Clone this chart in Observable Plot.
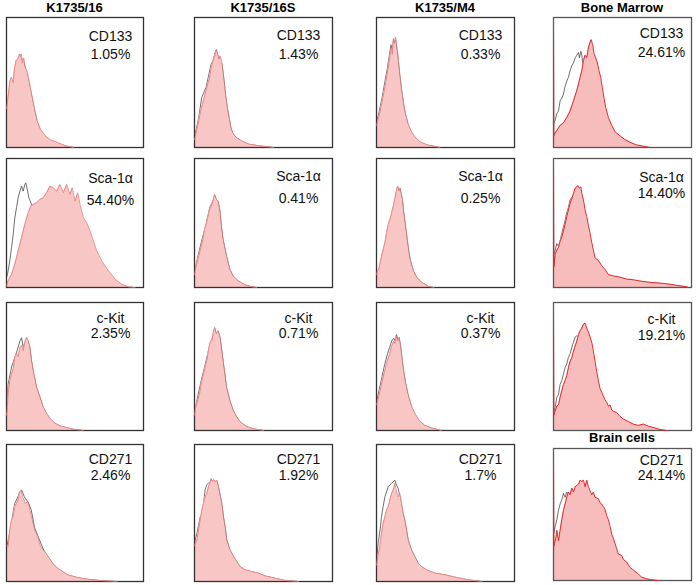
<!DOCTYPE html>
<html><head><meta charset="utf-8">
<script src="https://cdn.jsdelivr.net/npm/d3@7"></script>
<script src="https://cdn.jsdelivr.net/npm/@observablehq/plot@0.6"></script>
<style>
body{margin:0;background:#fff;}
#root{position:relative;width:697px;height:585px;font-family:"Liberation Sans",Arial,sans-serif;overflow:hidden;}
.title{position:absolute;font-weight:bold;font-size:13px;line-height:15px;transform:translateX(-50%);white-space:nowrap;color:#000;}
.panel{position:absolute;}
</style></head><body><div id="root"></div>
<script>
// ---- categories & labels ----
const columns = ["K1735/16", "K1735/16S", "K1735/M4", "Bone Marrow"];
const markers = ["CD133", "Sca-1α", "c-Kit", "CD271"];
const percents = [
  ["1.05%", "1.43%", "0.33%", "24.61%"],
  ["54.40%", "0.41%", "0.25%", "14.40%"],
  ["2.35%", "0.71%", "0.37%", "19.21%"],
  ["2.46%", "1.92%", "1.7%", "24.14%"]
];
const lastPanelTitle = "Brain cells";

// ---- histograms: [fluorescence (% of log axis), count (% of panel max)] ----
const stained_r1c1 = [[0,30],[0.5,33],[1.5,42],[2.4,51],[3.6,54],[4.9,50],[5.8,61],[7,67],[8.3,68],[9.5,72],[10.2,70],[10.7,72],[11.4,65],[12.6,69],[13.5,62],[15,59],[17.5,46],[19.9,33],[22.3,21],[24.8,14],[28.4,9],[32,6],[36.9,4],[44,1],[49,0]];
const control_r1c1 = [[0,28],[2.4,48],[3.6,52],[4.9,49],[5.8,58],[7,64],[8.3,66],[9.5,70],[10.7,69],[12.6,66],[15,56],[17.5,44],[19.9,31],[22.3,20],[24.8,13],[28.4,8],[32,5],[36.9,3],[44,1],[49,0]];
const stained_r2c1 = [[0,1.3],[1.2,5.2],[3.7,10.3],[6.1,18],[8.5,28.4],[11,38.7],[13.4,49],[15.9,58],[17.8,63.1],[19.5,64.4],[22,65.7],[24.4,68.3],[26.8,69.6],[29.3,73.5],[31.7,78.6],[34.1,77.3],[36.6,74.7],[39,79.9],[41.5,73.5],[43.9,79.9],[46.3,72.2],[48,77.3],[50,67],[52,73.5],[53.7,64.4],[56.1,54.1],[58.5,50.3],[61,43.8],[63.4,36.1],[65.9,28.4],[69.5,20.6],[74.4,12.9],[79.3,6.4],[84.1,2.6],[89,0.5],[93.9,0]];
const control_r2c1 = [[0,8],[0.7,10],[2.4,20.6],[3.7,30.9],[4.9,41.2],[6.1,54.1],[7.3,61.9],[8.5,69.6],[9.8,74.7],[11,78.6],[12.2,74.7],[13.4,79.9],[14.1,81.2],[15.4,74.7],[16.3,69.6],[17.8,65.7],[18.8,63.1],[20.7,60.6],[25.6,41.2],[32.9,18],[40.2,5.2],[50,1.3],[60,0]];
const stained_r3c1 = [[0,12],[0.5,16],[1.2,28.9],[2.4,39.3],[3.7,44.4],[4.9,48.3],[6.1,57.4],[7.3,59.9],[8.5,57.4],[9.8,65.1],[11,66.4],[12.2,62.5],[13.4,69],[14.6,72.9],[15.9,70.3],[17.1,65.1],[18.3,54.8],[19.5,47],[22,34.1],[24.4,26.4],[26.8,18.6],[29.3,13.4],[31.7,9.6],[35.4,5.7],[39,3.6],[43.9,2.3],[48.8,1],[56,0]];
const control_r3c1 = [[0,14],[1.2,36],[3.7,49.6],[7.3,61],[9.8,69.8],[11,72.4],[12.2,65.1],[13.4,69],[14.6,71.6],[15.9,69],[17.1,64],[18.3,54],[19.5,46],[22,33],[24.4,26],[26.8,18],[29.3,13],[31.7,9],[35.4,5.5],[39,3.5],[43.9,2],[48.8,1],[56,0]];
const stained_r4c1 = [[0,26.7],[1.2,25.5],[2.4,37.6],[3.6,44.9],[4.8,47.3],[6,54.6],[7.2,57],[8.4,59.5],[9.6,65.5],[10.8,66.7],[11.6,61.9],[12.8,59.5],[13.7,57],[15.2,58.3],[16.1,55.8],[17.6,49.8],[19.3,42.5],[20.5,37.6],[22.9,32.8],[24.8,25.5],[26.5,23.1],[28.9,20.6],[31.3,17],[33.7,13.3],[37.3,9.7],[41,7.3],[44.6,4.9],[51.8,2.9],[59,1.7],[68.7,0.7],[80.7,0]];
const control_r4c1 = [[0,24],[2.4,36],[4.8,50],[6,57],[8.4,61.9],[9.6,65.5],[11.1,66.7],[13,61.9],[14.4,59.5],[15.7,58.3],[18,52.4],[20.5,39.3],[24.1,30.3],[26.5,24.3],[28.9,20],[31.3,16.5],[33.7,13],[37.3,9.5],[41,7],[44.6,4.8],[51.8,2.8],[59,1.6],[68.7,0.6],[80.7,0]];

const stained_r1c2 = [[0,6],[1,10.3],[3.1,20.5],[4.4,28.2],[5.7,33.3],[7,38.5],[8.3,43.6],[9.6,48.7],[10.9,53.8],[12.1,61.5],[13.4,66.7],[14.7,70.5],[16,75.6],[16.8,71.8],[17.8,67.9],[18.6,70.5],[19.9,65.4],[21.2,53.8],[22.5,41],[23.8,30.8],[25.1,23.1],[26.4,15.4],[27.6,11.5],[30.2,7.7],[34.1,5.1],[39.3,2.6],[47,1.3],[57.4,0]];
const control_r1c2 = [[0,8],[3.1,23],[5.2,38.5],[8.3,46],[12,64],[13.4,67],[15.5,75],[16.8,71],[18,67],[19.9,64],[21.2,53],[22.5,40],[23.8,30],[25.1,22.5],[26.4,15],[27.6,11],[30.2,7.5],[34.1,5],[39.3,2.5],[47,1.2],[57.4,0]];
const stained_r2c2 = [[0,10],[0.7,14.2],[2.4,21.9],[3.7,27.1],[4.9,32.2],[6.1,37.4],[7.3,45.1],[8.5,49],[9.8,55.4],[11,60.6],[12.2,63.1],[13.4,67],[14.6,72.2],[15.9,68.3],[17.1,67],[18.3,60.6],[19.5,47.7],[20.7,37.4],[23.2,24.5],[25.6,14.2],[28,9],[31.7,5.2],[36.6,2.1],[41.5,0.5],[45,0]];
const control_r2c2 = [[0,12],[2.4,24],[6.1,40],[8.5,49.5],[11,62],[12.2,64.5],[13.4,67.5],[14.6,71.5],[15.9,68],[17.1,66.5],[18.3,60],[19.5,47],[20.7,37],[23.2,24],[25.6,14],[28,8.8],[31.7,5],[36.6,2],[41.5,0.5],[45,0]];
const stained_r3c2 = [[0,12],[0.7,17.3],[2.4,23.8],[3.7,28.9],[4.9,36.7],[6.6,44.4],[8,50.9],[9,54.8],[10.5,65.1],[11.5,69],[12.7,70.3],[13.9,78],[14.6,80.6],[15.9,75.5],[17.1,78],[18.3,74.2],[19.5,65.1],[20.7,54.8],[22,44.4],[23.2,34.1],[25.6,23.8],[28,16],[30.5,10.9],[32.9,7],[37.8,3.1],[42.7,1.3],[50,0]];
const control_r3c2 = [[0,14],[2.4,27],[4.9,39],[7.3,49.6],[9.8,61],[11.5,69],[12.7,71.5],[13.9,77],[14.6,80],[15.9,75],[17.1,77.5],[18.3,73.5],[19.5,64.5],[20.7,54],[22,44],[23.2,33.5],[25.6,23.3],[28,15.6],[30.5,10.6],[32.9,6.8],[37.8,3],[42.7,1.2],[50,0]];
const stained_r4c2 = [[0,26],[0.5,27.9],[1.7,30.3],[2.9,37.6],[4.1,44.9],[5.3,52.2],[6.5,57],[7.7,61.9],[8.9,64.3],[10.1,69.2],[11.4,72.8],[12.1,75.2],[13,72.8],[14,74.5],[15,72.8],[16.2,74],[17.4,69.2],[18.6,63.1],[19.8,57],[21,47.3],[22.2,40],[23.4,30.3],[25.8,23.1],[28.3,18.2],[30.7,14.6],[33.1,10.9],[36.7,8.5],[41.5,7.3],[46.4,6.1],[51.2,4.1],[58.5,2.4],[65.7,0.7],[75.4,0]];
const control_r4c2 = [[0,28],[1.7,35],[4.1,47],[5.8,50],[7.7,67],[8.9,70.6],[10.1,71.8],[11.4,72.5],[12.1,74.5],[13,72.3],[14,74],[15,72.3],[16.2,73.5],[17.4,68.8],[18.6,62.7],[19.8,56.6],[21,47],[22.2,39.6],[23.4,30],[25.8,22.8],[28.3,18],[30.7,14.4],[33.1,10.7],[36.7,8.3],[41.5,7.1],[46.4,6],[51.2,4],[58.5,2.3],[65.7,0.6],[75.4,0]];

const stained_r1c3 = [[0,17],[2,25],[4,35],[6,46],[8,58],[9.5,68],[10.5,76],[11.5,72],[12.3,84],[13,80],[13.8,85],[14.6,78],[15.4,72],[16.5,60],[18,46],[19.5,35],[21,26],[23,18],[25.5,12],[28,8],[32,4],[37,2],[46,0]];
const control_r1c3 = [[0,19],[2,28],[4,38],[6,50],[8,62],[9.5,72],[10.5,79],[11.5,75],[12.3,83],[13,80],[13.8,83],[14.6,77],[15.4,71],[16.5,59],[18,45],[19.5,34],[21,25],[23,17],[25.5,11],[28,7.5],[32,3.8],[37,1.8],[46,0]];
const stained_r2c3 = [[0,10],[0.7,12.9],[1.7,14.2],[2.4,18],[3.7,24.5],[4.9,29.6],[6.1,34.8],[7.3,42.5],[8.5,49],[9.8,52.8],[11,58],[12.2,63.1],[13.4,69.6],[14.6,76],[15.4,78.6],[16.3,74.7],[17.1,77.3],[17.8,73.5],[18.8,68.3],[19.5,60.6],[20.7,50.3],[22,39.9],[23.2,29.6],[24.4,21.9],[26.8,12.9],[29.3,7.7],[32.9,3.9],[37.8,0.8],[41.5,0]];
const control_r2c3 = [[0,9],[1.7,13.5],[3.7,23.5],[6.1,34],[8.5,48],[11,57],[13.4,68.5],[14.6,75],[15.4,77.5],[16.3,74],[17.1,76.5],[17.8,72.5],[18.8,67.5],[19.5,60],[20.7,49.5],[22,39],[23.2,29],[24.4,21.5],[26.8,12.5],[29.3,7.5],[32.9,3.8],[37.8,0.7],[41.5,0]];
const stained_r3c3 = [[0,20],[2,28],[4,38],[6,47],[8,55],[9.5,60],[11,66],[12.5,70],[13.5,68],[14.5,74],[15.5,70],[16.5,73],[17.5,66],[18.5,57],[19.5,48],[21,38],[23,28],[25.5,19],[28,13],[31,8],[35,4],[40,2],[47,0]];
const control_r3c3 = [[0,22],[2,32],[4,42],[6,52],[8,60],[9.5,65],[11,70],[12.5,72],[13.5,70],[14.5,75],[15.5,71],[16.5,72],[17.5,65],[18.5,56],[19.5,47],[21,37],[23,27],[25.5,18],[28,12],[31,7.5],[35,3.8],[40,1.8],[47,0]];
const stained_r4c3 = [[0,12],[0.7,17],[2.4,25.5],[3.6,35.2],[4.8,42.5],[6.1,47.3],[7.3,52.2],[8.5,54.6],[9.7,59.5],[10.9,64.3],[12.1,66.7],[13.3,71.6],[14.5,65.5],[15.7,61.9],[16.9,64.3],[18.2,57],[19.4,49.8],[20.6,44.9],[21.8,37.6],[23,30.3],[25.4,23.1],[27.8,18.2],[30.3,13.3],[32.7,10.9],[36.3,8.5],[42.4,6.1],[49.6,4.9],[56.9,3.2],[66.6,1.2],[76.3,0]];
const control_r4c3 = [[0,15],[1.2,27.9],[2.9,40],[3.6,47.3],[4.8,54.6],[6.1,61.9],[7.3,65.5],[8.5,69.2],[10.9,71.6],[12.1,72.8],[13.3,74],[14.5,70.4],[15.7,68],[16.9,61.9],[18.2,54.6],[19.4,48.5],[20.6,44],[21.8,37],[23,30],[25.4,22.8],[27.8,18],[30.3,13],[32.7,10.7],[36.3,8.3],[42.4,6],[49.6,4.8],[56.9,3.1],[66.6,1.1],[76.3,0]];

const stained_r1c4 = [[0,100],[0.3,9],[0.5,10],[2.4,13],[4.8,17],[7.2,19],[9.6,23],[12,28],[14.5,36],[16.9,44],[18.1,49],[19.3,54],[20.5,59],[21.7,67],[22.9,71],[24.1,69],[25.3,77],[26.5,81],[27.2,83],[28.4,79],[29.4,72],[30.6,69],[31.8,65],[33,59],[34.2,54],[35.4,46],[36.6,38],[37.8,31],[39.8,23],[42.2,17],[44.6,12],[48.2,9],[51.8,6],[55.4,4],[60.2,2],[65.1,1],[69.9,0]];
const control_r1c4 = [[0,18],[1.2,21],[2.4,26],[3.6,28],[4.8,36],[6,38],[7.2,41],[8.4,47],[9.6,51],[10.8,54],[12,59],[13.3,63],[14.5,65],[15.7,69],[16.9,71],[18.1,73],[18.8,69],[19.8,74],[20.5,71],[21.2,65],[22.9,59],[25.3,49],[28.9,36],[33.7,23],[38.6,14],[45.8,5],[55.4,1],[65,0]];
const stained_r2c4 = [[0,100],[0.3,16],[0.5,18],[1.2,26],[2.4,29],[3.6,31],[4.8,36],[6,39],[7.2,44],[8.4,49],[9.6,55],[10.8,60],[12,65],[13.3,69],[14.5,73],[15.7,77],[16.9,78],[17.6,79],[18.8,77],[19.8,78],[20.5,73],[21.7,68],[22.9,60],[24.1,55],[25.3,48],[26.5,42],[27.7,35],[28.9,29],[30.1,23],[32.5,21],[34.9,17],[37.3,14],[39.8,10],[43.4,9],[48.2,8],[53,6.5],[57.8,6],[62.7,5],[69.9,4],[77.1,3.4],[84.3,2.6],[91.6,1.3],[97,0.5]];
const control_r2c4 = [[0,25],[1.2,29],[2.4,34],[3.6,32],[4.8,36],[6,42],[7.2,47],[8.4,52],[9.6,58],[10.8,62],[12,68],[13.3,70],[14.5,71],[16.9,70],[19.3,62],[21.7,49],[25.3,31],[28.9,18],[33.7,9],[41,4],[50.6,1],[62.7,0]];
const stained_r3c4 = [[0,100],[0.3,12],[0.5,13],[1.2,15],[2.4,19],[3.6,20],[4.8,26],[6,31],[7.2,36],[8.4,39],[9.6,43],[10.8,49],[12,54],[13.3,57],[14.5,62],[15.7,66],[16.9,70],[18.1,75],[19.3,78],[20.5,80],[21.7,83],[22.9,84],[24.1,80],[25.3,77],[26.5,73],[27.7,69],[28.9,62],[30.1,54],[31.3,46],[32.5,39],[33.7,33],[34.9,30],[36.1,27],[37.3,24],[38.6,22],[39.8,19],[41,20],[42.2,16],[43.4,15],[45.8,14],[48.2,11],[50.6,9],[54.2,7],[57.8,5],[61.4,4],[65.1,5],[68.7,3.4],[73.5,2],[77.1,0.8],[81.9,0]];
const control_r3c4 = [[0,14],[1.2,18],[2.4,26],[3.6,28],[4.8,36],[6,39],[7.2,44],[8.4,49],[9.6,52],[10.8,57],[12,60],[13.3,65],[14.5,69],[15.7,73],[16.9,74],[18.1,73],[20.5,65],[24.1,49],[28.9,31],[33.7,18],[41,7],[50.6,2],[62.7,0]];
const stained_r4c4 = [[0,100],[0.3,26],[0.7,28],[1.7,32],[2.4,38],[3.6,30],[4.8,38],[6,46],[7.2,53],[8.4,58],[9.6,63],[10.8,67],[12,65],[13.3,70],[14.5,67],[15.7,71],[16.9,72],[18.1,73],[19.3,76],[20.5,75],[21.7,76],[22.9,71],[24.1,76],[25.3,71],[26.5,68],[27.7,65],[28.9,67],[30.1,63],[32.5,62],[33.7,59],[34.9,58],[36.1,56],[37.3,54],[38.6,49],[39.8,46],[41,41],[42.2,35],[43.4,32],[44.6,28],[45.8,24],[47,20],[49.4,19],[50.6,16],[53,14],[55.4,10],[57.8,8],[61.4,5],[63.9,2.5],[67.5,1.3],[71.1,0.5],[75.9,0]];
const control_r4c4 = [[0,35],[1.2,41],[2.4,46],[3.6,53],[4.8,58],[6,61],[7.2,66],[8.4,63],[9.6,67],[10.8,63],[13.3,61],[18.1,58],[25.3,51],[32.5,41],[39.8,28],[47,15],[56.6,5],[68.7,0.5],[75,0]];

const stained = [
  [stained_r1c1, stained_r1c2, stained_r1c3, stained_r1c4],
  [stained_r2c1, stained_r2c2, stained_r2c3, stained_r2c4],
  [stained_r3c1, stained_r3c2, stained_r3c3, stained_r3c4],
  [stained_r4c1, stained_r4c2, stained_r4c3, stained_r4c4]
];
const controls = [
  [control_r1c1, control_r1c2, control_r1c3, control_r1c4],
  [control_r2c1, control_r2c2, control_r2c3, control_r2c4],
  [control_r3c1, control_r3c2, control_r3c3, control_r3c4],
  [control_r4c1, control_r4c2, control_r4c3, control_r4c4]
];

// ---- layout (pixels) ----
const colLeft = [6, 194, 376, 553], colRight = [143, 332, 514, 691];
const rowTop = [17, 158, 302, 444], rowBottom = [147, 287, 430, 581];
const labelDy1 = [[19,18,18,16],[20,18,18,19],[16,16,16,17],[15,15,15,12]];
const labelDy2 = [[37,37,37,35],[42,40,40,35],[31,31,31,33],[31,31,31,27]];
const FONT = "Liberation Sans, Arial, Helvetica, sans-serif";

const root = document.getElementById("root");
function addTitle(text, cx, top) {
  const d = document.createElement("div");
  d.className = "title"; d.textContent = text;
  d.style.left = cx + "px"; d.style.top = top + "px";
  root.appendChild(d);
}
columns.forEach((t, c) => addTitle(t, (colLeft[c] + colRight[c]) / 2, 0));

for (let r = 0; r < 4; r++) {
  for (let c = 0; c < 4; c++) {
    const L = colLeft[c], R = colRight[c];
    let T = rowTop[r], B = rowBottom[r];
    if (r === 3 && c === 3) { T = 448; B = 580; }
    const W = R - L, H = B - T;
    const bm = c === 3;
    const plot = Plot.plot({
      width: W + 2, height: H + 2,
      marginLeft: 1, marginRight: 1, marginTop: 1, marginBottom: 1,
      x: {domain: [0, 100], axis: null},
      y: {domain: [0, 100], axis: null},
      style: {background: "transparent", fontFamily: FONT, overflow: "visible"},
      marks: [
        Plot.line(controls[r][c], {x: d => d[0], y: d => d[1], stroke: "#4a4a4a", strokeWidth: 0.8}),
        Plot.areaY(stained[r][c], {x: d => d[0], y: d => d[1], fill: bm ? "#f7bcbc" : "#f9c6c6"}),
        Plot.frame({stroke: bm ? "#555" : "#333", strokeWidth: 1.3}),
        Plot.line(stained[r][c], {x: d => d[0], y: d => d[1], stroke: bm ? "#e02a2a" : "#e27a7a", strokeWidth: bm ? 1 : 0.8}),
        Plot.text([markers[r]], {frameAnchor: "top-left", text: d => d, dx: bm ? 108 : 104, dy: labelDy1[r][c],
          fontSize: 14, textAnchor: "middle", lineAnchor: "middle", fill: "#111", fontFamily: FONT}),
        Plot.text([percents[r][c]], {frameAnchor: "top-left", text: d => d, dx: bm ? 108 : 104, dy: labelDy2[r][c],
          fontSize: 14, textAnchor: "middle", lineAnchor: "middle", fill: "#111", fontFamily: FONT})
      ]
    });
    plot.classList.add("panel");
    plot.style.left = (L - 1) + "px";
    plot.style.top = (T - 1) + "px";
    root.appendChild(plot);
  }
}
addTitle(lastPanelTitle, (colLeft[3] + colRight[3]) / 2, 430);
</script></body></html>
